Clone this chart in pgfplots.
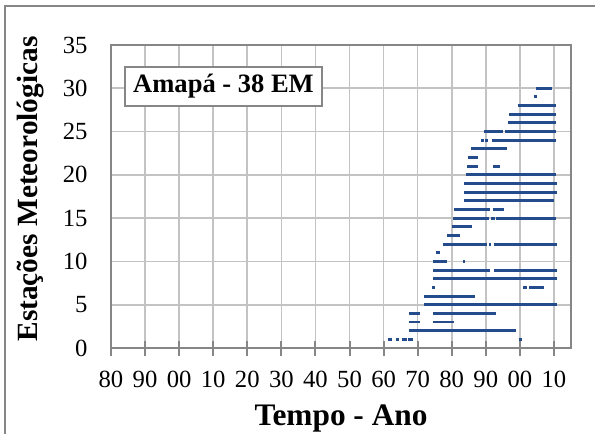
\documentclass[border=0pt]{standalone}
\usepackage{fontspec}
\setmainfont{Liberation Serif}
\usepackage{pgfplots}
\usepackage{pgfplotstable}
\pgfplotsset{compat=1.18}
\definecolor{ser}{RGB}{36,76,140}
\definecolor{gridc}{RGB}{195,195,195}
\definecolor{axc}{RGB}{134,134,134}

\pgfplotstableread{
x y
1961.2 1
1962.5 1
nan nan
1963.5 1
1964.6 1
nan nan
1965.4 1
1966.8 1
nan nan
1967.3 1
1968.5 1
nan nan
1999.6 1
2000.5 1
nan nan
1967.4 2
1998.8 2
nan nan
1967.4 3
1970.8 3
nan nan
1974.4 3
1980.8 3
nan nan
1967.4 4
1970.8 4
nan nan
1974.4 4
1992.9 4
nan nan
1971.9 5
2010.8 5
nan nan
1971.9 6
1986.9 6
nan nan
1974.3 7
1975.1 7
nan nan
2000.9 7
2002.2 7
nan nan
2002.8 7
2007.1 7
nan nan
1974.6 8
2010.8 8
nan nan
1974.6 9
1991.2 9
nan nan
1992.4 9
2010.8 9
nan nan
1974.6 10
1978.5 10
nan nan
1983.2 10
1984.0 10
nan nan
1975.4 11
1976.6 11
nan nan
1977.3 12
1990.3 12
nan nan
1991.0 12
1991.6 12
nan nan
1992.4 12
2010.8 12
nan nan
1978.7 13
1982.5 13
nan nan
1980.1 14
1985.8 14
nan nan
1980.4 15
1990.8 15
nan nan
1991.6 15
1992.7 15
nan nan
1993.1 15
2010.5 15
nan nan
1980.7 16
1991.2 16
nan nan
1992.0 16
1995.4 16
nan nan
1983.7 17
2010.0 17
nan nan
1983.7 18
2010.8 18
nan nan
1983.7 19
2010.8 19
nan nan
1984.3 20
2010.7 20
nan nan
1984.5 21
1987.8 21
nan nan
1992.0 21
1994.1 21
nan nan
1984.7 22
1987.8 22
nan nan
1985.7 23
1996.3 23
nan nan
1988.6 24
1989.4 24
nan nan
1989.9 24
1990.7 24
nan nan
1991.8 24
2010.5 24
nan nan
1989.5 25
1994.9 25
nan nan
1995.7 25
2010.7 25
nan nan
1996.6 26
2010.7 26
nan nan
1996.8 27
2010.7 27
nan nan
1999.3 28
2010.7 28
nan nan
2004.1 29
2004.9 29
nan nan
2004.7 30
2009.3 30
}\segs

\begin{document}
\begin{tikzpicture}[x=1pt,y=1pt]
\useasboundingbox (0,0) rectangle (446.25,-325.5);
\draw[draw=axc, line width=1.1pt] (3.9,-326) -- (3.9,-4.35) -- (447,-4.35);
\begin{axis}[
  at={(83.25pt,-261pt)}, anchor=south west,
  scale only axis, width=345pt, height=227.25pt,
  xmin=1880, xmax=2015, ymin=0, ymax=35,
  xtick={1880,1890,...,2010},
  xticklabels={80,90,00,10,20,30,40,50,60,70,80,90,00,10},
  ytick={0,5,...,35},
  grid=major,
  major grid style={draw=gridc, line width=1.2pt},
  axis line style={draw=axc, line width=2.2pt},
  tick pos=left,
  tick align=center,
  major tick length=11.25pt,
  xtick style={draw=axc, line width=1.5pt},
  ytick style={draw=none},
  /pgf/number format/assume math mode=true,
  tick label style={font=\fontsize{18.5}{21}\selectfont, inner sep=0pt},
  xticklabel style={anchor=north, yshift=-11.2pt},
  yticklabel style={anchor=east, xshift=-11.8pt},
  unbounded coords=jump,
]
\addplot[ser, line width=2.2pt, no marks] table[x=x, y=y] {\segs};
\node[draw=axc, line width=1.1pt, fill=white, minimum width=147.75pt, minimum height=29.25pt, inner sep=0pt,
  font=\bfseries\fontsize{19.9}{22}\selectfont] at (rel axis cs:0.2446,0.863) {Amapá - 38 EM};
\end{axis}
\node[anchor=base, font=\bfseries\fontsize{23.5}{26}\selectfont] at (255.75,-318.75) {Tempo - Ano};
\node[rotate=90, anchor=base, font=\bfseries\fontsize{22}{26}\selectfont] at (27.75,-141.75) {Estações Meteorológicas};
\end{tikzpicture}
\end{document}
